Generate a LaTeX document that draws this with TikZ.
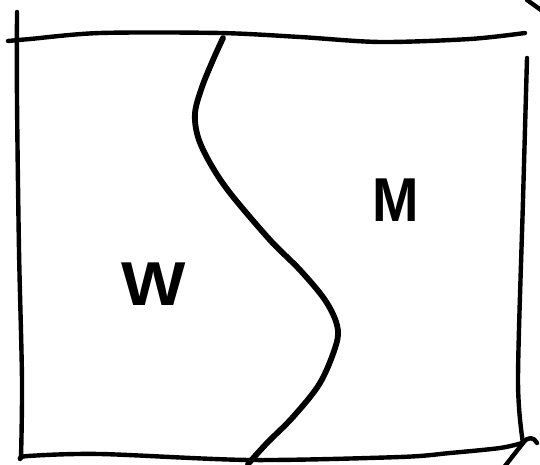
\documentclass[tikz,border=0pt]{standalone}
\usepackage{fontspec}
\setmainfont{Liberation Sans}
\begin{document}
\begin{tikzpicture}[x=1pt,y=-1pt,
  sketch/.style={line width=4.4pt,line cap=round,line join=round,black},
  divider/.style={line width=5.8pt,line cap=round,line join=round,black},
  letter/.style={inner sep=0pt,font=\fontsize{62}{62}\bfseries\selectfont}]
\useasboundingbox[fill=white] (0,0) rectangle (540,465);
% box sides
\draw[sketch] plot[smooth,tension=0.5] coordinates {(8,41) (30,39) (100,33) (220,33) (300,37) (380,42) (470,39) (525,33)};
\draw[sketch] plot[smooth,tension=0.5] coordinates {(17,12) (17,100) (19,250) (22,380) (21,458)};
\draw[sketch] plot[smooth,tension=0.5] coordinates {(527,58) (523,200) (518,380) (523,443)};
\draw[sketch] plot[smooth,tension=0.5] coordinates {(20,459) (28,456) (100,454) (250,460) (400,457) (450,453) (500,448) (522,443)};
% corner strokes
\draw[sketch] (527,0) -- (541,10);
\draw[sketch] (505,466) -- (523,443) .. controls (528,436) and (534,437) .. (537,443);
% dividing curve
\draw[divider] plot[smooth,tension=0.55] coordinates {(223,38) (213,60) (202,87) (195,113) (198,137) (210,163) (230,193) (270,240) (300,270) (325,300) (337,325) (336,345) (320,383) (293,417) (267,443) (248,464)};
% labels
\node[letter,xscale=1.1] (w) at (154,284) {W};
\node[letter,xscale=0.9] (m) at (396,200) {M};
\end{tikzpicture}
\end{document}
